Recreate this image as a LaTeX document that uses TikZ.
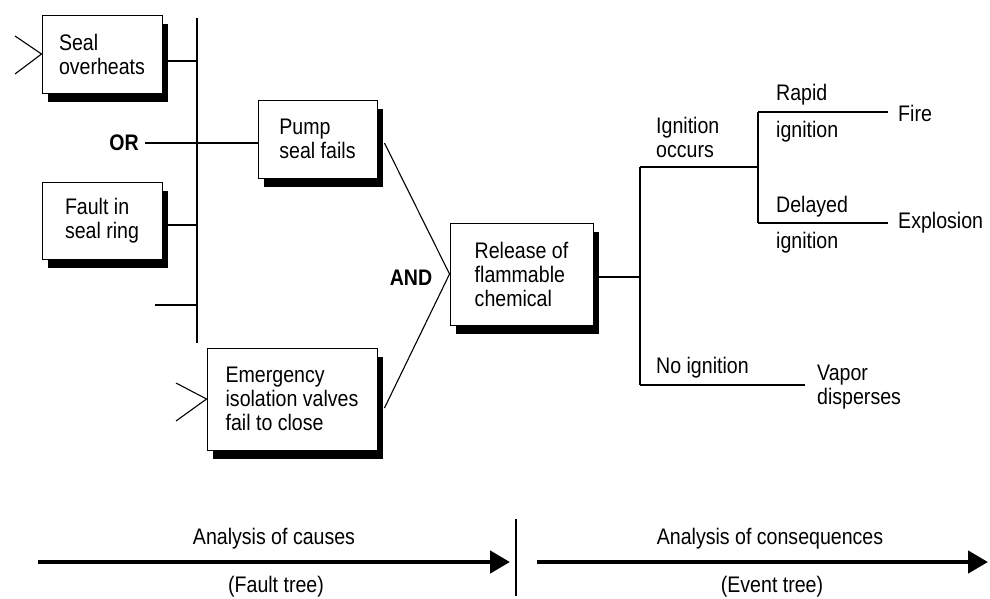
\documentclass[tikz,border=0pt]{standalone}
\usepackage{fontspec}
\setmainfont{Liberation Sans}[FakeStretch=0.87]
\usetikzlibrary{shadows,arrows.meta}
\begin{document}
\begin{tikzpicture}[x=1pt,y=-1pt,
 every node/.style={font=\fontsize{22.5}{24}\selectfont, inner sep=0pt},
 evbox/.style={draw, line width=0.9pt, fill=white, align=left,
   drop shadow={shadow xshift=6pt, shadow yshift=-9pt, fill=black, opacity=1}},
 ln/.style={line width=1.1pt},
 thickln/.style={line width=1.9pt},
 lbl/.style={anchor=west, align=left},
 gate/.style={font=\fontsize{22.5}{24}\selectfont\bfseries},
 bigarrow/.style={line width=4.5pt, -{Triangle[length=20pt,width=22pt]}}
]
\useasboundingbox (0,0) rectangle (990,598);

% fault tree boxes
\node[evbox, minimum width=120pt, minimum height=78pt] (seal) at (102,54) {Seal\\overheats};
\node[evbox, minimum width=120pt, minimum height=77pt] (fault) at (102,220.5) {Fault in\\seal ring};
\node[evbox, minimum width=119pt, minimum height=78pt] (pump) at (317.5,139) {Pump\\seal fails};
\node[evbox, minimum width=143pt, minimum height=102pt] (rel) at (521.5,274) {Release of\\flammable\\chemical};
\node[evbox, minimum width=170pt, minimum height=102pt] (emg) at (292,399) {Emergency\\isolation valves\\fail to close};

% gates
\node[gate] (or) at (124,143) {OR};
\node[gate] (and) at (411,278) {AND};

% OR bus
\coordinate (bt) at (197,18);
\coordinate (bb) at (197,343);
\draw[ln] (bt) -- (bb);
\coordinate (j1) at (197,61);
\coordinate (j2) at (197,225);
\coordinate (j3) at (197,305);
\coordinate (s3) at (155,305);
\draw[ln] (seal.east |- j1) -- (j1);
\draw[ln] (fault.east |- j2) -- (j2);
\draw[ln] (s3) -- (j3);
\coordinate (orl) at (145,143);
\draw[ln] (orl) -- (orl -| pump.west);

% chevrons (transfer symbols)
\coordinate (sa) at (15,36);
\coordinate (sb) at (15,74);
\draw[ln] (sa) -- (seal.west) -- (sb);
\coordinate (ea) at (176,383);
\coordinate (eb2) at (176,421);
\draw[ln] (ea) -- (emg.west) -- (eb2);

% AND gate lines
\draw[ln] ([shift={(7pt,-4pt)}]pump.east) -- (rel.west);
\draw[ln] ([shift={(7pt,-9pt)}]emg.east) -- (rel.west);

% event tree
\coordinate (e0) at (640,277);
\draw[thickln] (rel.east |- e0) -- (e0);
\coordinate (et) at (640,167);
\coordinate (eb) at (640,385);
\draw[ln] (et) -- (eb);
\coordinate (i1) at (758,167);
\draw[ln] (et) -- (i1);
\coordinate (i1t) at (758,112);
\coordinate (i1b) at (758,223);
\draw[ln] (i1t) -- (i1b);
\coordinate (f0) at (888,112);
\coordinate (x0) at (888,223);
\draw[ln] (i1t) -- (f0);
\draw[ln] (i1b) -- (x0);
\coordinate (v0) at (805,385);
\draw[thickln] (eb) -- (v0);

\node[lbl] (ign) at (656,137) {Ignition\\occurs};
\node[lbl] (rap) at (776,95) {Rapid};
\node[lbl] (rap2) at (776,132) {ignition};
\node[lbl] (del) at (776,207) {Delayed};
\node[lbl] (del2) at (776,243) {ignition};
\node[lbl] (noig) at (656,368) {No ignition};
\node[lbl] (fire) at (898,113) {Fire};
\node[lbl] (expl) at (898,223) {Explosion};
\node[lbl] (vap) at (817,387) {Vapor\\disperses};

% bottom arrows
\coordinate (a1s) at (38,562);
\coordinate (a1e) at (510,562);
\draw[bigarrow] (a1s) -- (a1e);
\coordinate (d1) at (516,519);
\coordinate (d2) at (516,596);
\draw[line width=1.5pt] (d1) -- (d2);
\coordinate (a2s) at (537,562);
\coordinate (a2e) at (988,562);
\draw[bigarrow] (a2s) -- (a2e);

\node (t1) at (274,539) {Analysis of causes};
\node (t2) at (276,587) {(Fault tree)};
\node (t3) at (770,539) {Analysis of consequences};
\node (t4) at (772,587) {(Event tree)};
\end{tikzpicture}
\end{document}
